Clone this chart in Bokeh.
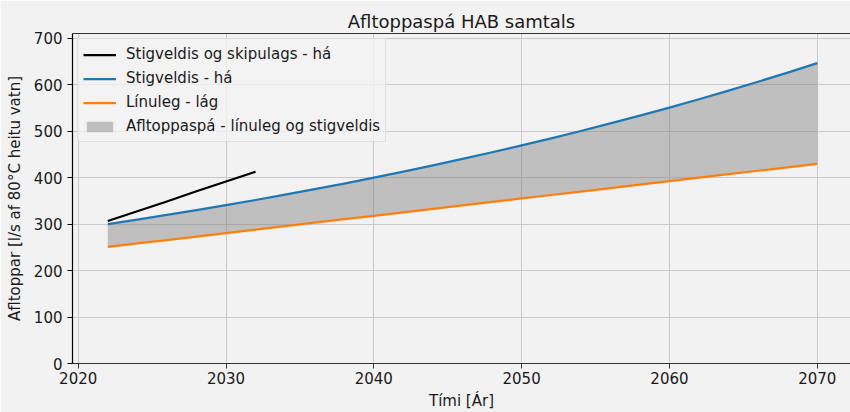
from bokeh.plotting import figure
from bokeh.models import (Legend, LegendItem, LinearAxis, FixedTicker, Range1d)
from bokeh.embed import file_html
from bokeh.resources import INLINE

# ---- data ----
years = [2022, 2024, 2026, 2028, 2030, 2032, 2034, 2036, 2038, 2040, 2042, 2044,
         2046, 2048, 2050, 2052, 2054, 2056, 2058, 2060, 2062, 2064, 2066, 2068, 2070]
stigveldis_ha = [300.0, 309.8, 319.9, 330.3, 341.0, 352.1, 363.6, 375.4, 387.6,
                 400.2, 413.2, 426.7, 440.5, 454.9, 469.7, 485.0, 500.7, 517.0,
                 533.8, 551.2, 569.1, 587.7, 606.8, 626.5, 647.0]
linuleg_lag = [251.0, 258.5, 265.9, 273.4, 280.8, 288.3, 295.8, 303.2, 310.7,
               318.1, 325.6, 333.1, 340.5, 348.0, 355.4, 362.9, 370.4, 377.8,
               385.3, 392.7, 400.2, 407.7, 415.1, 422.6, 430.0]
skip_years = [2022, 2024, 2026, 2028, 2030, 2032]
skip_ha = [307, 328, 349, 371, 392, 413]

x_ticks = [2020, 2030, 2040, 2050, 2060, 2070]
y_ticks = [0, 100, 200, 300, 400, 500, 600, 700]

title_text = "Afltoppaspá HAB samtals"
x_label = "Tími [Ár]"
y_label = "Afltoppar [l/s af 80°C heitu vatn]"
legend_labels = ["Stigveldis og skipulags - há", "Stigveldis - há",
                 "Línuleg - lág", "Afltoppaspá - línuleg og stigveldis"]

BG = "#f2f2f2"
FONT = "DejaVu Sans"
TXT = "#1a1a1a"

p = figure(width=850, height=412, output_backend="svg", toolbar_location=None,
           x_range=Range1d(2019.614, 2072.25), y_range=Range1d(0, 710.7),
           min_border_left=72, min_border_right=0, min_border_top=33,
           min_border_bottom=48)
p.background_fill_color = BG
p.border_fill_color = BG
p.outline_line_color = None

p.title.text = title_text
p.title.text_font = FONT
p.title.text_font_size = "18px"
p.title.text_font_style = "normal"
p.title.text_color = TXT
p.title.align = "center"
p.title.standoff = 4

# grid
p.xgrid.ticker = FixedTicker(ticks=x_ticks)
p.ygrid.ticker = FixedTicker(ticks=y_ticks)
for g in (p.xgrid, p.ygrid):
    g.grid_line_color = "#c8c8c8"
    g.grid_line_width = 1

# axes
for ax, col in ((p.xaxis[0], "#333333"), (p.yaxis[0], "#000000")):
    ax.axis_line_color = col
    ax.axis_line_width = 1.2
    ax.major_tick_line_color = col
    ax.major_tick_out = 5
    ax.major_tick_in = 0
    ax.minor_tick_line_color = None
    ax.major_label_text_font = FONT
    ax.major_label_text_font_size = "15px"
    ax.major_label_text_color = TXT
    ax.axis_label_text_font = FONT
    ax.axis_label_text_font_size = "15px"
    ax.axis_label_text_font_style = "normal"
    ax.axis_label_text_color = TXT

p.xaxis.major_label_standoff = 3
p.xaxis.axis_label_standoff = 5
p.yaxis.major_label_standoff = 5
p.yaxis.axis_label_standoff = 7

p.xaxis.ticker = FixedTicker(ticks=x_ticks)
p.yaxis.ticker = FixedTicker(ticks=y_ticks)
p.xaxis.axis_label = x_label
p.yaxis.axis_label = y_label

top = LinearAxis(ticker=FixedTicker(ticks=[]), axis_line_color="#333333",
                 axis_line_width=1.2, major_tick_line_color=None,
                 minor_tick_line_color=None, major_label_text_font_size="0px")
p.add_layout(top, "above")

# glyphs
area = p.varea(x=years, y1=linuleg_lag, y2=stigveldis_ha,
               fill_color="#808080", fill_alpha=0.45)
l_black = p.line(skip_years, skip_ha, line_color="#000000", line_width=2.25,
                 line_join="round")
l_blue = p.line(years, stigveldis_ha, line_color="#1f77b4", line_width=2.25,
                line_join="round")
l_orange = p.line(years, linuleg_lag, line_color="#ff7f0e", line_width=2.25,
                  line_join="round")

legend = Legend(items=[
    LegendItem(label=legend_labels[0], renderers=[l_black]),
    LegendItem(label=legend_labels[1], renderers=[l_blue]),
    LegendItem(label=legend_labels[2], renderers=[l_orange]),
    LegendItem(label=legend_labels[3], renderers=[area]),
])
legend.location = "top_left"
legend.margin = 5
legend.padding = 5
legend.spacing = 4
legend.label_height = 20
legend.glyph_height = 13
legend.glyph_width = 33
legend.label_standoff = 10
legend.label_text_font = FONT
legend.label_text_font_size = "15px"
legend.label_text_color = TXT
legend.background_fill_color = BG
legend.background_fill_alpha = 0.8
legend.border_line_color = "#cccccc"
legend.border_line_width = 1
p.add_layout(legend, "center")

open("out.html", "w").write(file_html(p, INLINE))
